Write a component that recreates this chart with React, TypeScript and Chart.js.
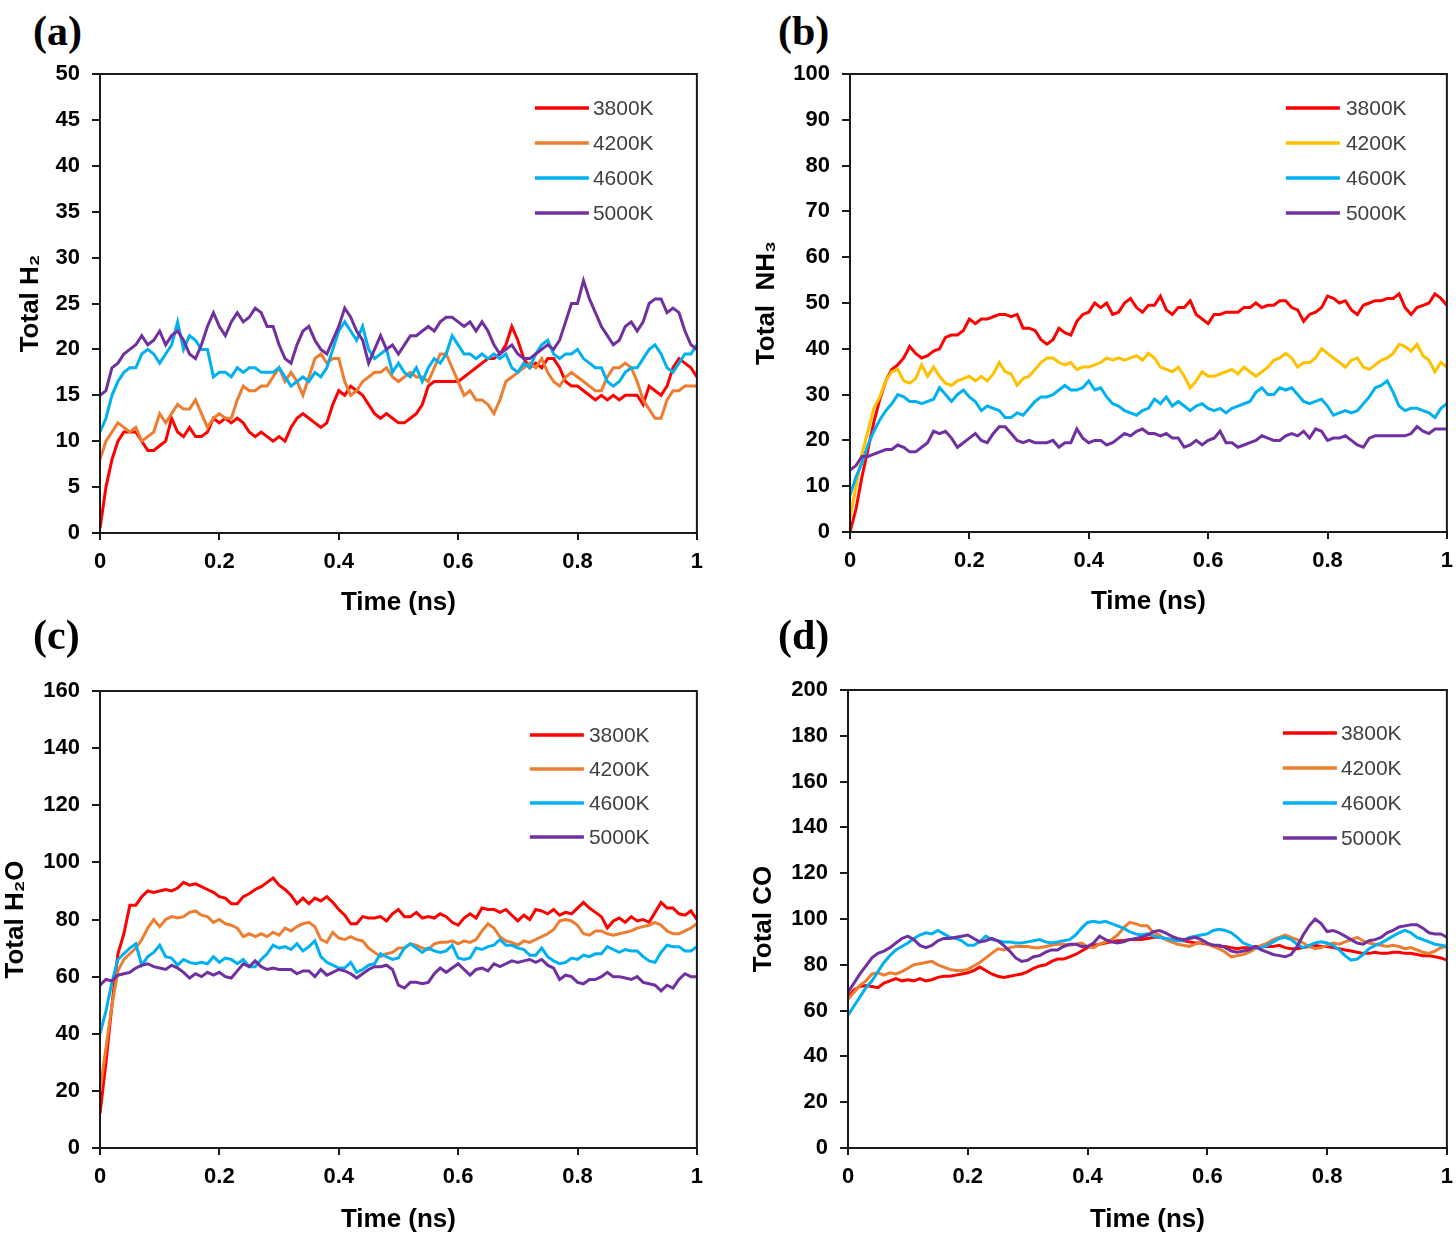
import React, { useEffect, useRef } from "react";
import { Chart, registerables } from "chart.js";

Chart.register(...registerables);

// ---------- data ----------
const TIME = [
  0, 0.01, 0.02, 0.03, 0.04, 0.05, 0.06, 0.07, 0.08, 0.09,
  0.1, 0.11, 0.12, 0.13, 0.14, 0.15, 0.16, 0.17, 0.18, 0.19,
  0.2, 0.21, 0.22, 0.23, 0.24, 0.25, 0.26, 0.27, 0.28, 0.29,
  0.3, 0.31, 0.32, 0.33, 0.34, 0.35, 0.36, 0.37, 0.38, 0.39,
  0.4, 0.41, 0.42, 0.43, 0.44, 0.45, 0.46, 0.47, 0.48, 0.49,
  0.5, 0.51, 0.52, 0.53, 0.54, 0.55, 0.56, 0.57, 0.58, 0.59,
  0.6, 0.61, 0.62, 0.63, 0.64, 0.65, 0.66, 0.67, 0.68, 0.69,
  0.7, 0.71, 0.72, 0.73, 0.74, 0.75, 0.76, 0.77, 0.78, 0.79,
  0.8, 0.81, 0.82, 0.83, 0.84, 0.85, 0.86, 0.87, 0.88, 0.89,
  0.9, 0.91, 0.92, 0.93, 0.94, 0.95, 0.96, 0.97, 0.98, 0.99,
  1,
];

const SERIES_LABELS = ["3800K", "4200K", "4600K", "5000K"];

// (a) Total H2
const H2_3800 = [
  0.5, 5, 8, 10, 11, 11, 11, 10, 9, 9,
  9.5, 10, 12.5, 11, 10.5, 11.5, 10.5, 10.5, 11, 12.5,
  12, 12.5, 12, 12.5, 12, 11, 10.5, 11, 10.5, 10,
  10.5, 10, 11.5, 12.5, 13, 12.5, 12, 11.5, 12, 14,
  15.5, 15, 16, 15.5, 15, 14, 13, 12.5, 13, 12.5,
  12, 12, 12.5, 13, 14, 16, 16.5, 16.5, 16.5, 16.5,
  16.5, 17, 17.5, 18, 18.5, 19, 19, 19.5, 20.5, 22.5,
  21, 19, 18, 18.5, 18, 19, 19, 18, 16.5, 16,
  16, 15.5, 15, 14.5, 15, 14.5, 15, 14.5, 15, 15,
  15, 14, 16, 15.5, 15, 16, 18, 19, 18.5, 18,
  17,
];
const H2_4200 = [
  8, 10, 11, 12, 11.5, 11, 11.5, 10, 10.5, 11,
  13, 12, 13, 14, 13.5, 13.5, 14.5, 13, 11.5, 12.5,
  13, 12.5, 12.5, 14.5, 16, 15.5, 15.5, 16, 16, 17,
  18, 16.5, 17.5, 16.5, 15, 17, 19, 19.5, 18.5, 19,
  19, 16.5, 15, 15.5, 16.5, 17, 17.5, 17.5, 18, 17,
  16.5, 17, 17.5, 17, 17, 16.5, 18, 19.5, 19.5, 18,
  16.5, 15, 15.5, 14.5, 14.5, 14, 13, 14.5, 16.5, 17,
  17.5, 18, 18.5, 18, 19, 17.5, 16.5, 16, 17, 17.5,
  17, 16.5, 16, 15.5, 15.5, 17, 18, 18, 18.5, 18,
  16.5, 14.5, 13.5, 12.5, 12.5, 14.5, 15.5, 15.5, 16, 16,
  16,
];
const H2_4600 = [
  11, 12.5, 15, 16.5, 17.5, 18, 18, 19.5, 20, 19.5,
  18.5, 19.5, 20.5, 23, 20, 21.5, 21, 20, 20, 17,
  17.5, 17.5, 17, 18, 17.5, 18, 18, 17.5, 17.5, 17.5,
  18, 17, 16, 16.5, 17, 16.5, 17.5, 17, 18, 20,
  22, 23, 22, 21, 22.5, 20, 19, 19.5, 20, 17.5,
  18.5, 17.5, 17, 18, 16.5, 18, 19, 18.5, 19.5, 21.5,
  20.5, 19.5, 19.5, 19, 19.5, 19, 19.5, 19, 19.5, 18,
  17.5, 18.5, 18, 19.5, 20.5, 21, 19.5, 19, 19.5, 19.5,
  20, 19, 18.5, 18, 18, 16.5, 16, 16.5, 17.5, 18,
  18, 19, 20, 20.5, 19.5, 18, 17.5, 18.5, 19.5, 19.5,
  20.5,
];
const H2_5000 = [
  15, 15.5, 18, 18.5, 19.5, 20, 20.5, 21.5, 20.5, 21,
  22, 20.5, 21.5, 22, 21, 19.5, 19, 20.5, 22.5, 24,
  22.5, 21.5, 23, 24, 23, 23.5, 24.5, 24, 22.5, 22.5,
  20.5, 19, 18.5, 20.5, 22, 22.5, 21, 20, 19.5, 21,
  22.5, 24.5, 23.5, 22, 21, 18.5, 20, 21.5, 20, 20.5,
  19.5, 20.5, 21.5, 21.5, 22, 22.5, 22, 23, 23.5, 23.5,
  23, 22.5, 23, 22, 23, 22, 20.5, 19.5, 20, 20.5,
  19.5, 19, 19, 19.5, 20, 20.5, 20, 21, 23, 25,
  25, 27.5, 25.5, 24, 22.5, 21.5, 20.5, 21, 22.5, 23,
  22, 23, 25, 25.5, 25.5, 24, 24.5, 24, 22, 20.5,
  20,
];

// (b) Total NH3
const NH3_3800 = [
  0, 5, 12, 18, 24, 29, 33, 35.5, 36.5, 38,
  40.5, 39, 38, 38.5, 39.5, 40, 42.5, 43, 43, 44,
  46.5, 45.5, 46.5, 46.5, 47, 47.5, 47.5, 47, 47.5, 44.5,
  44.5, 44, 42, 41, 42, 44.5, 43.5, 43, 46, 47.5,
  48, 50, 49, 50, 47.5, 48, 50, 51, 49, 48,
  49.5, 49.5, 51.5, 48.5, 47.5, 49, 49, 50.5, 47.5, 46.5,
  45.5, 47.5, 47.5, 48, 48, 48, 49, 49, 50, 49,
  49.5, 49.5, 50.5, 50.5, 49, 48.5, 46, 47.5, 48, 49,
  51.5, 51, 50, 50.5, 48.5, 47.5, 49.5, 50, 50.5, 50.5,
  51, 51, 52, 49, 47.5, 49, 49.5, 50, 52, 51,
  49.5,
];
const NH3_4200 = [
  3, 10, 17, 22, 27, 29.5, 33, 35, 35.5, 33,
  32.5, 33.5, 36.5, 34, 36, 34, 32.5, 32, 33, 33.5,
  34, 33, 34, 33, 34.5, 37, 35, 34.5, 32, 33.5,
  34, 35.5, 37, 38, 38, 37, 36.5, 37, 35.5, 36,
  36, 36.5, 37, 38, 37.5, 38, 37.5, 38, 38.5, 37.5,
  39, 38, 36, 35.5, 35, 36, 34, 31.5, 33, 35,
  34, 34, 34.5, 35, 35.5, 34.5, 36, 35, 34, 35,
  36, 37.5, 38, 39, 38, 36, 37, 37, 38, 40,
  39, 38, 37, 36, 37.5, 38, 36, 35.5, 36.5, 37.5,
  38, 39, 41, 40.5, 39.5, 41, 38.5, 37.5, 35, 37,
  36,
];
const NH3_4600 = [
  8, 12, 15, 19, 22, 24.5, 26.5, 28, 30, 29.5,
  28.5, 28.5, 28, 28.5, 29, 31.5, 30, 28.5, 30, 31,
  29.5, 28.5, 26.5, 27.5, 27, 26.5, 25, 25, 26, 25.5,
  27, 28.5, 29.5, 29.5, 30, 31, 32, 31, 31, 31.5,
  33, 31, 31.5, 29.5, 28, 27.5, 26.5, 26, 25.5, 26.5,
  27, 29, 28, 29.5, 27.5, 28.5, 27.5, 26.5, 27.5, 28,
  27, 26.5, 27, 26, 27, 27.5, 28, 28.5, 30.5, 31.5,
  30, 30, 31.5, 31, 31.5, 30, 28.5, 28, 28.5, 29,
  27.5, 25.5, 26, 26.5, 26, 26.5, 28, 29.5, 31.5, 32,
  33, 30.5, 27.5, 26.5, 27, 27, 26.5, 26, 25, 27,
  28,
];
const NH3_5000 = [
  13.5, 14.5, 16.5, 16.5, 17, 17.5, 18, 18, 19, 18.5,
  17.5, 17.5, 18.5, 19.5, 22, 21.5, 22, 20.5, 18.5, 19.5,
  20.5, 21.5, 20, 19.5, 21.5, 23, 23, 21.5, 20, 19.5,
  20, 19.5, 19.5, 19.5, 20, 18.5, 19.5, 19.5, 22.5, 20.5,
  19.5, 20, 20, 19, 19.5, 20.5, 21.5, 21, 22, 22.5,
  21.5, 21.5, 21, 21.5, 20.5, 20.5, 18.5, 19, 20, 19,
  20, 20.5, 22, 19.5, 19.5, 18.5, 19, 19.5, 20, 21,
  20.5, 20, 20, 21, 21.5, 21, 22, 20.5, 22.5, 22,
  20, 20.5, 20.5, 21, 20, 19, 18.5, 20.5, 21, 21,
  21, 21, 21, 21, 21.5, 23, 22, 21.5, 22.5, 22.5,
  22.5,
];

// (c) Total H2O
const H2O_3800 = [
  12, 30, 50, 68, 75, 85, 85, 88, 90, 89.5,
  90, 90.5, 90, 91, 93, 92, 92.5, 91.5, 90.5, 89.5,
  88, 87.5, 85.5, 85.5, 88, 89, 90.5, 91.5, 93, 94.5,
  92, 90.5, 88.5, 85.5, 87.5, 85.5, 87.5, 86.5, 88, 86,
  83.5, 81.5, 78.5, 78.5, 81, 80.5, 80.5, 81, 79.5, 82,
  83.5, 81, 81, 82.5, 80.5, 81, 80.5, 82, 81, 79,
  78, 80.5, 82, 80.5, 84, 83.5, 83.5, 82.5, 83.5, 81.5,
  79.5, 81.5, 80, 83.5, 83, 82, 83.5, 81.5, 82.5, 82,
  84, 86, 84, 82.5, 81, 77, 79.5, 80.5, 79, 81,
  79.5, 80, 79, 82.5, 86, 84, 84, 82, 81.5, 83,
  80,
];
const H2O_4200 = [
  20, 35, 50, 62, 66, 68, 70, 73, 77, 80,
  77.5, 80, 81, 80.5, 81, 82.5, 83, 81.5, 81, 79,
  80, 78.5, 78, 77, 74, 75, 74, 75, 74, 75.5,
  74.5, 77, 76, 77.5, 78.5, 79, 77.5, 73, 72, 75.5,
  73.5, 73, 74, 73, 72.5, 70, 68.5, 67, 68, 68.5,
  70, 70, 71.5, 71, 70, 69.5, 71.5, 72, 72, 72.5,
  71.5, 72.5, 72, 73, 76, 78.5, 77, 74, 72.5, 72,
  71, 72.5, 72, 73, 74, 75, 76.5, 79.5, 80, 79.5,
  78, 75, 74.5, 76, 76, 75, 74.5, 75, 75.5, 76,
  77, 77.5, 78, 79, 78, 76, 75, 75, 76, 77,
  78.5,
];
const H2O_4600 = [
  40, 48, 58, 66, 68, 70, 71.5, 64, 67, 68.5,
  71, 67, 66.5, 64, 66, 65, 64.5, 65, 64.5, 67,
  65, 66.5, 66, 64.5, 66, 63.5, 63.5, 66, 68, 71,
  70, 70.5, 69.5, 71.5, 69, 70.5, 72.5, 67, 65, 64,
  63, 63, 65, 61.5, 62.5, 64, 64.5, 68, 67, 66,
  66.5, 70, 71.5, 70, 68.5, 70, 69, 68.5, 69, 71,
  66.5, 66, 66.5, 70, 69.5, 70.5, 71, 73, 71, 71,
  70, 69.5, 67.5, 67.5, 70, 67, 65.5, 64.5, 65, 66.5,
  66, 67.5, 67, 68, 68, 70.5, 69.5, 68.5, 69.5, 69,
  69, 67, 65.5, 65, 68.5, 71, 70.5, 70.5, 69, 69,
  70.5,
];
const H2O_5000 = [
  57, 59, 58.5, 60.5, 61, 61.5, 63, 64, 64.5, 63.5,
  63, 62.5, 64, 63, 61.5, 59.5, 61, 60, 61.5, 60.5,
  61.5, 60, 59.5, 62, 64.5, 63.5, 65.5, 63.5, 62.5, 63,
  62.5, 62.5, 62.5, 61, 62, 62, 60, 62.5, 60.5, 61.5,
  62.5, 62, 61, 59.5, 61, 62.5, 63.5, 63.5, 64, 62.5,
  57, 56, 58, 58, 57.5, 58, 61, 63, 61.5, 63,
  64.5, 62.5, 60.5, 62.5, 63, 62, 64.5, 63.5, 64.5, 65.5,
  65, 65.5, 66, 65, 66, 64, 63, 59, 60.5, 60,
  58, 57.5, 59, 59, 60, 61.5, 60, 60, 59.5, 59,
  60, 58, 57.5, 57, 55, 57, 56, 59, 61, 60,
  60,
];

// (d) Total CO
const CO_3800 = [
  66, 69, 70.5, 71, 70.5, 70, 72, 73, 74, 73,
  73.5, 73, 74, 73, 73.5, 74.5, 75, 75, 75.5, 76,
  76.5, 77.5, 79, 77.5, 76, 75, 74.5, 75, 75.5, 76,
  77, 78.5, 79.5, 80, 81.5, 82.5, 82.5, 83.5, 84.5, 86,
  87.5, 88.5, 89, 89.5, 90, 90.5, 90.5, 91, 91, 91,
  91.5, 92, 92, 91.5, 91, 91, 90.5, 90, 89.5, 89.5,
  89, 88.5, 88, 88, 87.5, 87, 87.5, 87.5, 88, 88,
  88, 88, 88.5, 87.5, 87, 87, 87.5, 88, 88.5, 88,
  88, 87.5, 87, 86.5, 86, 85.5, 85, 85, 85.5, 85,
  85, 85.5, 85.5, 85, 85, 84.5, 84, 84, 83.5, 83,
  82,
];
const CO_4200 = [
  65, 68, 71, 73, 76, 76.5, 75.5, 76.5, 76, 77,
  78.5, 80, 80.5, 81, 81.5, 80, 79, 78, 77.5, 77.5,
  78, 79.5, 81, 83, 85, 87, 86.5, 87.5, 88, 88,
  88, 87.5, 87.5, 88, 88.5, 89, 89, 88.5, 89, 89.5,
  88, 87.5, 89, 90, 91, 93, 96, 98.5, 98, 97,
  97, 94, 93, 91, 90, 89, 88.5, 88, 89, 90,
  89, 88, 87, 85.5, 83.5, 84, 84.5, 85.5, 87, 88.5,
  89.5, 91, 92, 93, 92, 91, 89.5, 88, 87, 87.5,
  88.5, 89.5, 89, 90, 91, 92, 90.5, 89.5, 89, 88.5,
  88, 88.5, 88, 87, 87.5, 86.5, 85.5, 85, 86, 87.5,
  88,
];
const CO_4600 = [
  58, 62, 66, 70, 73, 77, 81, 84, 86.5, 88,
  89.5, 91.5, 93, 94, 93.5, 95, 93.5, 92, 91.5, 90.5,
  88.5, 88.5, 90, 92.5, 91, 90.5, 90, 90, 89.5, 89.5,
  90, 90.5, 91, 90, 89.5, 90, 90.5, 91, 93, 96,
  98.5, 99, 98.5, 99, 98, 97, 96, 94.5, 93.5, 93,
  93.5, 92.5, 92, 91.5, 91, 90.5, 90.5, 92, 92.5, 93,
  93.5, 95, 95.5, 95, 94, 92, 89.5, 88.5, 87.5, 87.5,
  88.5, 90, 91.5, 92, 91, 89, 87.5, 88.5, 89.5, 90,
  89.5, 88.5, 86.5, 84, 82, 82.5, 84.5, 87, 88.5, 89.5,
  91, 92.5, 94, 95, 94, 92, 91, 90, 89, 88.5,
  88,
];
const CO_5000 = [
  68, 72, 76, 79.5, 83, 85, 86, 87.5, 89.5, 91.5,
  92.5, 91, 88.5, 87.5, 88.5, 90.5, 91.5, 91.5, 92, 92.5,
  93, 91.5, 90, 90.5, 91.5, 90.5, 88.5, 86, 83, 81.5,
  82, 83.5, 84, 85.5, 86.5, 86.5, 88, 89, 89, 88,
  88, 89.5, 92.5, 91, 90, 89.5, 90, 91, 91.5, 92,
  93, 94.5, 95, 94, 92.5, 91.5, 91, 91.5, 92, 91,
  89.5, 88.5, 88.5, 87.5, 86, 85.5, 86, 86.5, 88, 86.5,
  85.5, 84.5, 84, 83.5, 84.5, 88, 93, 97, 100, 98,
  94.5, 95, 94, 92.5, 91, 89.5, 89, 90.5, 91, 92,
  94, 95, 96.5, 97, 97.5, 97.5, 96, 94, 93.5, 93.5,
  92,
];

// ---------- styling ----------
const SANS = '"Liberation Sans", Arial, Helvetica, sans-serif';
const SERIF = '"Liberation Serif", "Times New Roman", serif';
const RED = "#FF0000";
const ORANGE = "#ED7D31";
const GOLD = "#FFC000";
const CYAN = "#00B0F0";
const PURPLE = "#7030A0";
const AXIS = "#1a1a1a";

type PanelSpec = {
  tag: string;
  tagLeft: number;
  tagTop: number;
  left: number;
  top: number;
  width: number;
  height: number;
  yTitle: string;
  yMax: number;
  yStep: number;
  yTitlePad: number;
  xTitlePad: number;
  colors: string[];
  series: number[][];
  legend: { x0: number; x1: number; tx: number; y0: number; dy: number };
};

const PANELS: PanelSpec[] = [
  {
    tag: "(a)", tagLeft: 33, tagTop: 10,
    left: 0, top: 44, width: 712, height: 576,
    yTitle: "Total H\u2082", yMax: 50, yStep: 5, yTitlePad: 15, xTitlePad: 2,
    colors: [RED, ORANGE, CYAN, PURPLE],
    series: [H2_3800, H2_4200, H2_4600, H2_5000],
    legend: { x0: -162, x1: -108, tx: -104, y0: 34, dy: 35 },
  },
  {
    tag: "(b)", tagLeft: 778, tagTop: 10,
    left: 750, top: 44, width: 712, height: 575,
    yTitle: "Total  NH\u2083", yMax: 100, yStep: 10, yTitlePad: 1, xTitlePad: 2,
    colors: [RED, GOLD, CYAN, PURPLE],
    series: [NH3_3800, NH3_4200, NH3_4600, NH3_5000],
    legend: { x0: -161, x1: -107, tx: -101, y0: 34, dy: 35 },
  },
  {
    tag: "(c)", tagLeft: 33, tagTop: 614,
    left: 0, top: 661, width: 712, height: 574,
    yTitle: "Total H\u2082O", yMax: 160, yStep: 20, yTitlePad: 0, xTitlePad: 0,
    colors: [RED, ORANGE, CYAN, PURPLE],
    series: [H2O_3800, H2O_4200, H2O_4600, H2O_5000],
    legend: { x0: -167, x1: -113, tx: -108, y0: 44, dy: 34 },
  },
  {
    tag: "(d)", tagLeft: 778, tagTop: 614,
    left: 748, top: 660, width: 714, height: 575,
    yTitle: "Total CO", yMax: 200, yStep: 20, yTitlePad: 0, xTitlePad: 0,
    colors: [RED, ORANGE, CYAN, PURPLE],
    series: [CO_3800, CO_4200, CO_4600, CO_5000],
    legend: { x0: -164, x1: -110, tx: -106, y0: 43, dy: 35 },
  },
];

function Panel({ spec }: { spec: PanelSpec }) {
  const ref = useRef<HTMLCanvasElement | null>(null);

  useEffect(() => {
    if (!ref.current) return;

    const framePlugin = {
      id: "frame",
      afterDraw(chart: any) {
        const { ctx, chartArea } = chart;
        ctx.save();
        ctx.strokeStyle = AXIS;
        ctx.lineWidth = 2;
        ctx.strokeRect(chartArea.left, chartArea.top, chartArea.right - chartArea.left, chartArea.bottom - chartArea.top);
        ctx.restore();
      },
    };

    const legendPlugin = {
      id: "insideLegend",
      afterDraw(chart: any) {
        const { ctx, chartArea } = chart;
        const L = spec.legend;
        ctx.save();
        chart.data.datasets.forEach((ds: any, i: number) => {
          const y = chartArea.top + L.y0 + i * L.dy;
          ctx.strokeStyle = ds.borderColor;
          ctx.lineWidth = 3.5;
          ctx.beginPath();
          ctx.moveTo(chartArea.right + L.x0, y);
          ctx.lineTo(chartArea.right + L.x1, y);
          ctx.stroke();
          ctx.fillStyle = "#404040";
          ctx.font = `21px ${SANS}`;
          ctx.textAlign = "left";
          ctx.textBaseline = "middle";
          ctx.fillText(ds.label, chartArea.right + L.tx, y + 1);
        });
        ctx.restore();
      },
    };

    const datasets = spec.series.map((vals, i) => ({
      label: SERIES_LABELS[i],
      data: TIME.map((t, j) => ({ x: t, y: vals[j] })),
      borderColor: spec.colors[i],
      backgroundColor: spec.colors[i],
      borderWidth: 3,
      pointRadius: 0,
      tension: 0,
      fill: false,
      order: 4 - i,
    }));

    const chart = new Chart(ref.current, {
      type: "line",
      data: { datasets },
      options: {
        animation: false,
        responsive: false,
        maintainAspectRatio: false,
        layout: { padding: { top: 30, right: 0, left: 0, bottom: 0 } },
        plugins: {
          legend: { display: false },
          tooltip: { enabled: false },
        },
        scales: {
          x: {
            type: "linear",
            min: 0,
            max: 1,
            afterFit: (s: any) => { s.height = 87; },
            ticks: {
              stepSize: 0.2,
              autoSkip: false,
              maxRotation: 0,
              padding: 9,
              color: "#000",
              font: { family: SANS, size: 22, weight: "bold" },
              callback: (v: any) => String(Number(Number(v).toFixed(1))),
            },
            grid: { display: true, drawOnChartArea: false, drawTicks: true, tickLength: 7, color: AXIS, lineWidth: 2 },
            border: { display: true, color: AXIS, width: 2 },
            title: {
              display: true,
              text: "Time (ns)",
              color: "#000",
              font: { family: SANS, size: 26, weight: "bold" },
              padding: { top: 0, bottom: spec.xTitlePad },
            },
          },
          y: {
            type: "linear",
            min: 0,
            max: spec.yMax,
            afterFit: (s: any) => { s.width = 100; },
            ticks: {
              stepSize: spec.yStep,
              padding: 12,
              color: "#000",
              font: { family: SANS, size: 22, weight: "bold" },
            },
            grid: { display: true, drawOnChartArea: false, drawTicks: true, tickLength: 8, color: AXIS, lineWidth: 2 },
            border: { display: true, color: AXIS, width: 2 },
            title: {
              display: true,
              text: spec.yTitle,
              color: "#000",
              font: { family: SANS, size: 26, weight: "bold" },
              padding: { top: spec.yTitlePad, bottom: 0 },
            },
          },
        },
      } as any,
      plugins: [framePlugin, legendPlugin],
    });

    return () => chart.destroy();
  }, [spec]);

  return (
    <>
      <div
        style={{
          position: "absolute",
          left: spec.tagLeft,
          top: spec.tagTop,
          fontFamily: SERIF,
          fontWeight: "bold",
          fontSize: 42,
          lineHeight: 1,
          color: "#000",
        }}
      >
        {spec.tag}
      </div>
      <canvas
        ref={ref}
        width={spec.width}
        height={spec.height}
        style={{ position: "absolute", left: spec.left, top: spec.top, width: spec.width, height: spec.height }}
      />
    </>
  );
}

export default function App() {
  return (
    <div
      style={{
        position: "absolute",
        left: 0,
        top: 0,
        width: 1456,
        height: 1237,
        background: "#fff",
        overflow: "hidden",
      }}
    >
      {PANELS.map((p) => (
        <Panel key={p.tag} spec={p} />
      ))}
    </div>
  );
}
